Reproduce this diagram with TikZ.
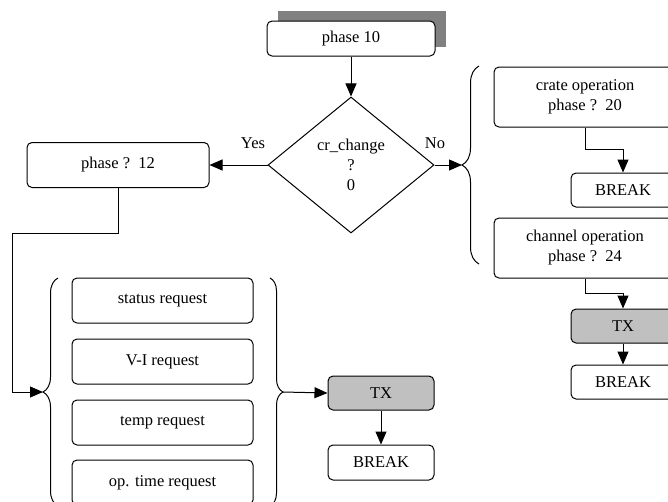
\documentclass[tikz,border=0pt]{standalone}
\usepackage{fontspec}
\setmainfont{Liberation Serif}
\usetikzlibrary{shapes.geometric,arrows.meta,decorations.pathreplacing}
\definecolor{txgray}{RGB}{192,192,192}
\definecolor{shadowgray}{RGB}{128,128,128}
\begin{document}
\begin{tikzpicture}[x=1pt,y=-1pt,line width=1pt,
    font=\fontsize{16.5}{20}\selectfont,
    block/.style ={draw, rounded corners=5pt, inner sep=0pt, align=center},
    txblock/.style ={block, fill=txgray},
    request/.style ={block, minimum width=181pt, minimum height=45pt},
    decision/.style ={draw, diamond, inner sep=0pt, align=center, minimum width=166pt, minimum height=136pt},
    arrow/.style ={-{Triangle[length=13pt,width=11pt]}},
    bracket/.style ={decorate, decoration={brace, amplitude=#1}}]
   \useasboundingbox (0,0) rectangle (668,501);

   % top of the chart
   \fill[shadowgray] (278,11) rectangle (446,47);
   \node[block, fill=white, minimum width=168pt, minimum height=35pt] (P10) at (351,38.5) {phase 10};
   \node[decision] (D) at (351,165) {cr\_change\\?\\0};
   \node (Y) at (253,143) {Yes};
   \node (N) at (435,143) {No};

   % yes branch
   \node[block, minimum width=182pt, minimum height=45pt] (P12) at (118,165) {phase ?\ \ 12};
   \node[request] (R1) at (162.5,300.5) {status request};
   \node[request] (R2) at (162.5,361.5) {V-I request};
   \node[request] (R3) at (162.5,422.5) {temp request};
   \node[request] (R4) at (162.5,482.5) {op. time request};
   \node[txblock, minimum width=106pt, minimum height=34pt] (TXa) at (381,393) {TX};
   \node[block, minimum width=106pt, minimum height=35pt] (BRa) at (381,462.5) {BREAK};

   % no branch
   \node[block, minimum width=182pt, minimum height=60pt] (CR) at (585,97) {crate operation\\phase ?\ \ 20};
   \node[block, minimum width=104pt, minimum height=34pt] (BRb) at (623,190) {BREAK};
   \node[block, minimum width=182pt, minimum height=60pt] (CH) at (585,248) {channel operation\\phase ?\ \ 24};
   \node[txblock, minimum width=104pt, minimum height=34pt] (TXb) at (623,326) {TX};
   \node[block, minimum width=104pt, minimum height=34pt] (BRc) at (623,382) {BREAK};

   % braces
   \coordinate (LB) at (43,392);
   \coordinate (RB) at (283,392);
   \coordinate (NB) at (462,165);
   \coordinate (K) at (12,233);
   \draw[bracket=15pt] (58,506) -- (58,278);
   \draw[bracket=13pt] (270,278) -- (270,506);
   \draw[bracket=17pt] (479,264) -- (479,66);

   \draw[arrow] (P10) to (D);
   \draw[arrow] (D.west) to (P12.east);
   \draw[arrow] (D.east) to (NB);
   \draw[arrow] (P12.south) |- (K) |- (LB);
   \draw[arrow] (RB) to (TXa.west);
   \draw[arrow] (TXa) to (BRa);
   \draw[arrow] (CR.south) -- ++(0,22) -| (BRb.north);
   \draw[arrow] (CH.south) -- ++(0,15) -| (TXb.north);
   \draw[arrow] (TXb) to (BRc);
 \end{tikzpicture}
\end{document}
